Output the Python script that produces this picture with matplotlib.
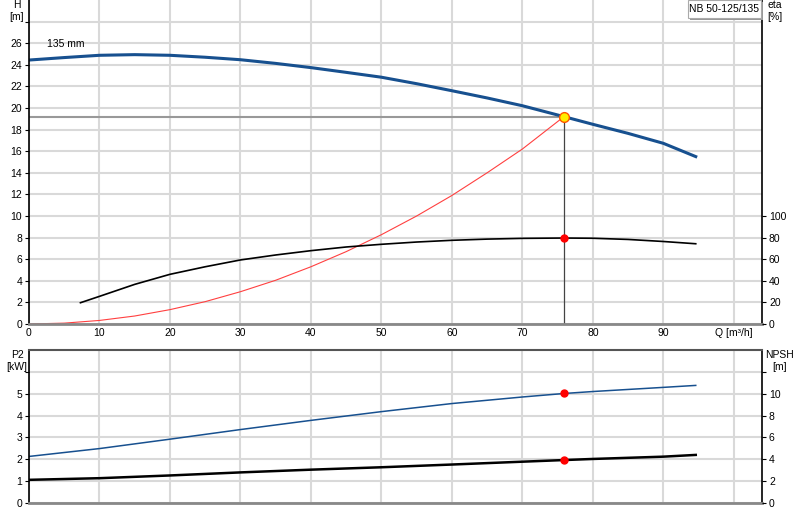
import numpy as np
import matplotlib
matplotlib.use("Agg")
import matplotlib.pyplot as plt
from matplotlib.patches import FancyBboxPatch

plt.rcParams['font.family'] = ['Liberation Sans', 'DejaVu Sans']

# pump curve H [m]
q_h = [0, 5, 10, 15, 20, 25, 30, 35, 40, 45, 50, 55, 60, 65, 70, 75.9, 80, 85, 90, 94.6]
h = [24.44, 24.67, 24.88, 24.94, 24.88, 24.7, 24.47, 24.13, 23.74, 23.3, 22.85, 22.25,
     21.6, 20.93, 20.21, 19.2, 18.49, 17.65, 16.73, 15.5]

# efficiency [%]
q_eta = [7.3, 10, 15, 20, 25, 30, 35, 40, 45, 50, 55, 60, 65, 70, 75.9, 80, 85, 90, 94.6]
eta = [19.7, 25.6, 36.7, 46, 53, 59.3, 63.9, 67.9, 71.3, 73.8, 75.9, 77.5, 78.6, 79.3,
       79.6, 79.4, 78.3, 76.4, 74.3]

# system curve [m]
q_sys = [0, 5, 10, 15, 20, 25, 30, 35, 40, 45, 50, 55, 60, 65, 70, 75.9]
h_sys = [0, 0.08, 0.33, 0.74, 1.33, 2.07, 2.99, 4.05, 5.3, 6.7, 8.27, 10.0, 11.9, 14.0, 16.2, 19.2]

# power P2 [kW]
q_p2 = [0, 10, 20, 30, 40, 50, 60, 70, 75.9, 80, 90, 94.6]
p2 = [2.13, 2.49, 2.92, 3.36, 3.78, 4.18, 4.55, 4.85, 5.01, 5.1, 5.29, 5.38]

# NPSH [m]
q_npsh = [0, 10, 20, 30, 40, 50, 60, 70, 75.9, 80, 90, 94.6]
npsh = [2.12, 2.27, 2.52, 2.8, 3.05, 3.27, 3.52, 3.78, 3.93, 4.03, 4.24, 4.4]

duty_q = 75.9
duty_h = 19.2
duty_eta = 79.6
duty_p2 = 5.01
duty_npsh = 3.93

x_ticks = [0, 10, 20, 30, 40, 50, 60, 70, 80, 90, 100]
x_labels = ["0", "10", "20", "30", "40", "50", "60", "70", "80", "90", "Q [m\u00b3/h]"]

FS = 7.5
GRID = "#d9d9d9"
BLUE = "#17508f"

fig = plt.figure(figsize=(8, 5.2), dpi=100)
ax1 = fig.add_axes([29 / 800, 1 - 324 / 520, 733 / 800, 324 / 520])
ax2 = fig.add_axes([29 / 800, 1 - 503 / 520, 733 / 800, 153 / 520])

for ax in (ax1, ax2):
    ax.set_xlim(0, 104)
    ax.set_xticks(x_ticks)
    ax.grid(True, color=GRID, linewidth=1.5)
    ax.set_axisbelow(True)
    ax.spines['left'].set_color("black")
    ax.spines['right'].set_color("black")
    ax.spines['left'].set_linewidth(1.2)
    ax.spines['right'].set_linewidth(1.2)
    ax.spines['bottom'].set_color("#888888")
    ax.spines['bottom'].set_linewidth(2)
    ax.tick_params(labelsize=FS, length=3, width=0.8, pad=2)

ax1.spines['top'].set_visible(False)
ax2.spines['top'].set_color("#555555")
ax2.spines['top'].set_linewidth(1.5)

# top panel
ax1.set_ylim(0, 30)
ax1.set_yticks(range(0, 30, 2))
ax1.set_yticklabels([str(v) if v <= 26 else "" for v in range(0, 30, 2)])
ax1.set_xticklabels(x_labels)
ax1.tick_params(axis='x', length=0, pad=3)

ax1r = ax1.twinx()
ax1r.set_ylim(0, 300)
ax1r.set_yticks(range(0, 101, 20))
ax1r.tick_params(labelsize=FS, length=3, width=0.8, pad=2)
for s in ax1r.spines.values():
    s.set_visible(False)

ax1.plot(q_sys, h_sys, color="#ff4040", linewidth=0.8)
ax1.plot([0, duty_q], [duty_h, duty_h], color="#999999", linewidth=1.5)
ax1.plot([duty_q, duty_q], [0, duty_h], color="#444444", linewidth=0.9)
ax1.plot(q_h, h, color=BLUE, linewidth=2.2)
ax1r.plot(q_eta, eta, color="black", linewidth=1.2)
ax1r.plot(duty_q, duty_eta, 'o', color="red", markersize=5, zorder=5)
ax1.plot(duty_q, duty_h, 'o', markerfacecolor="#ffee00", markeredgecolor="#ff5500",
         markersize=7, markeredgewidth=1, zorder=6)
ax1.text(2.5, 25.5, "135 mm", fontsize=FS, va='bottom', ha='left')

fig.text(17 / 800, 1 - 5 / 520, "H", fontsize=FS, ha='center', va='center')
fig.text(17 / 800, 1 - 17 / 520, "[m]", fontsize=FS, ha='center', va='center')
fig.text(767 / 800, 1 - 5 / 520, "eta", fontsize=FS, ha='left', va='center')
fig.text(767 / 800, 1 - 17 / 520, "[%]", fontsize=FS, ha='left', va='center')

box = FancyBboxPatch((688 / 800, 1 - 18 / 520), 73 / 800, 18 / 520,
                     boxstyle="square,pad=0", transform=fig.transFigure,
                     facecolor="white", edgecolor="#aaaaaa", linewidth=0.8, zorder=10)
shadow = FancyBboxPatch((690 / 800, 1 - 20 / 520), 73 / 800, 18 / 520,
                        boxstyle="square,pad=0", transform=fig.transFigure,
                        facecolor="#999999", edgecolor="none", zorder=9)
fig.patches.extend([shadow, box])
fig.text(724 / 800, 1 - 9 / 520, "NB 50-125/135", fontsize=FS, ha='center', va='center', zorder=11)

# bottom panel
ax2.set_ylim(0, 7)
ax2.set_yticks(range(0, 7))
ax2.set_yticklabels([str(v) if v <= 5 else "" for v in range(0, 7)])
ax2.tick_params(axis='x', length=0, labelbottom=False)

ax2r = ax2.twinx()
ax2r.set_ylim(0, 14)
ax2r.set_yticks(range(0, 13, 2))
ax2r.set_yticklabels([str(v) if v <= 10 else "" for v in range(0, 13, 2)])
ax2r.tick_params(labelsize=FS, length=3, width=0.8, pad=2)
for s in ax2r.spines.values():
    s.set_visible(False)

ax2.plot(q_p2, p2, color=BLUE, linewidth=1.1)
ax2r.plot(q_npsh, npsh, color="black", linewidth=1.8)
ax2.plot(duty_q, duty_p2, 'o', color="red", markersize=5, zorder=5)
ax2r.plot(duty_q, duty_npsh, 'o', color="red", markersize=5, zorder=5)

fig.text(17 / 800, 1 - 355 / 520, "P2", fontsize=FS, ha='center', va='center')
fig.text(17 / 800, 1 - 367 / 520, "[kW]", fontsize=FS, ha='center', va='center')
fig.text(780 / 800, 1 - 355 / 520, "NPSH", fontsize=FS, ha='center', va='center')
fig.text(780 / 800, 1 - 367 / 520, "[m]", fontsize=FS, ha='center', va='center')

fig.savefig("out.png", dpi=100)
